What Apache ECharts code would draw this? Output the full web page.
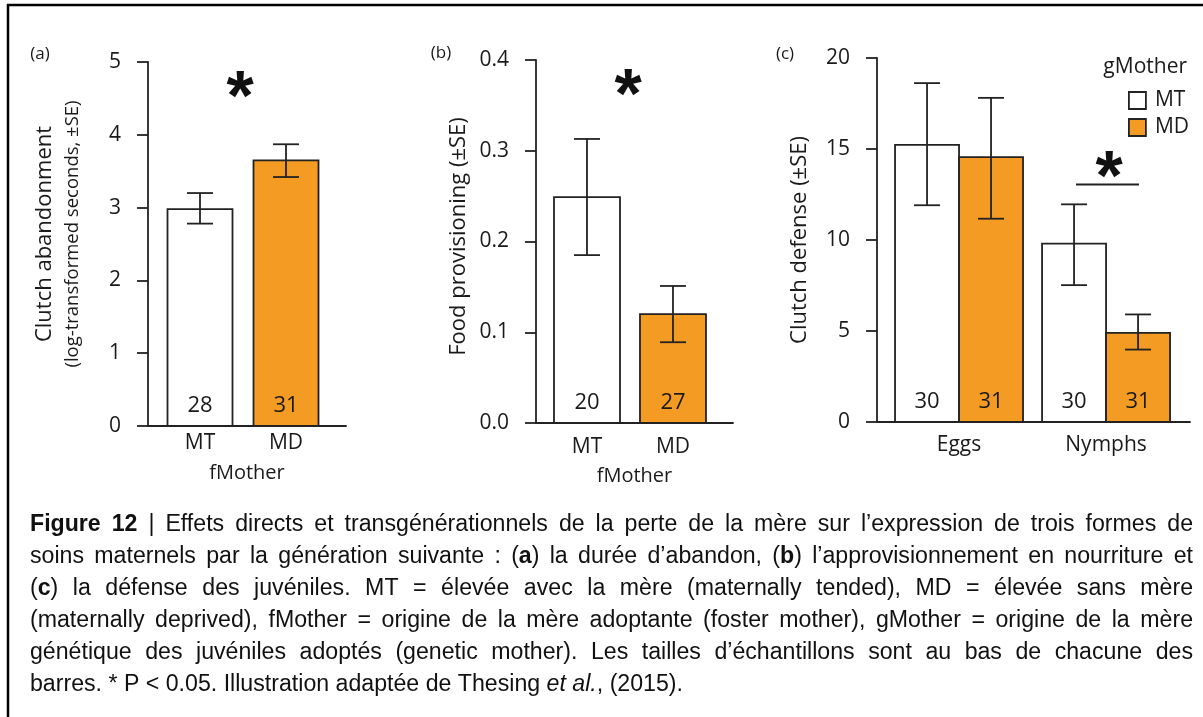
<!DOCTYPE html>
<html><head><meta charset="utf-8">
<script src="https://cdn.jsdelivr.net/npm/echarts@6/dist/echarts.min.js"></script>
<style>html,body{margin:0;padding:0;background:#fff}#main{width:1203px;height:717px}</style>
</head><body><div id="main"></div>
<script>
// ---------- Data ----------
// Panel (a) Clutch abandonment
const fMotherCategories = ['MT', 'MD'];
const abandonMean = [2.98, 3.65];
const abandonLow = [2.78, 3.42];
const abandonHigh = [3.20, 3.87];
const abandonN = [28, 31];
// Panel (b) Food provisioning
const foodMean = [0.249, 0.120];
const foodLow = [0.185, 0.089];
const foodHigh = [0.313, 0.151];
const foodN = [20, 27];
// Panel (c) Clutch defense
const stageCategories = ['Eggs', 'Nymphs'];
const gMotherGroups = ['MT', 'MD'];
const defenseMTMean = [15.23, 9.80];
const defenseMTLow = [11.91, 7.52];
const defenseMTHigh = [18.62, 11.96];
const defenseMTN = [30, 30];
const defenseMDMean = [14.55, 4.90];
const defenseMDLow = [11.17, 3.98];
const defenseMDHigh = [17.81, 5.91];
const defenseMDN = [31, 31];
// Caption
const captionLines = [
  [{t: 'Figure 12', s: 'b'}, {t: ' | Effets directs et transgénérationnels de la perte de la mère sur l’expression de trois formes de'}],
  [{t: 'soins maternels par la génération suivante : ('}, {t: 'a', s: 'b'}, {t: ') la durée d’abandon, ('}, {t: 'b', s: 'b'}, {t: ') l’approvisionnement en nourriture et'}],
  [{t: '('}, {t: 'c', s: 'b'}, {t: ') la défense des juvéniles. MT = élevée avec la mère (maternally tended), MD = élevée sans mère'}],
  [{t: '(maternally deprived), fMother = origine de la mère adoptante (foster mother), gMother = origine de la mère'}],
  [{t: 'génétique des juvéniles adoptés (genetic mother). Les tailles d’échantillons sont au bas de chacune des'}],
  [{t: 'barres. * P < 0.05. Illustration adaptée de Thesing '}, {t: 'et al.', s: 'i'}, {t: ', (2015).'}]
];

// ---------- Styles ----------
const ORANGE = '#F39B22';
const INK = '#1a1a1a';
const LINE = '#222';
const PFONT = '"Open Sans", "Noto Sans", sans-serif';
const fillColors = ['#ffffff', ORANGE];

function makeRender(offsetPx, barW, colorFn) {
  return function (params, api) {
    const x = api.value(0), m = api.value(1), lo = api.value(2), hi = api.value(3), n = api.value(4);
    const base = api.coord([x, 0]);
    const top = api.coord([x, m]);
    const pLo = api.coord([x, lo]);
    const pHi = api.coord([x, hi]);
    const cx = base[0] + offsetPx;
    const cap = 13;
    const ls = {stroke: LINE, lineWidth: 1.8};
    return {
      type: 'group',
      children: [
        {type: 'rect', shape: {x: cx - barW / 2, y: top[1], width: barW, height: base[1] - top[1]},
         style: {fill: colorFn(params.dataIndex), stroke: LINE, lineWidth: 1.8}},
        {type: 'line', shape: {x1: cx, y1: pLo[1], x2: cx, y2: pHi[1]}, style: ls},
        {type: 'line', shape: {x1: cx - cap, y1: pLo[1], x2: cx + cap, y2: pLo[1]}, style: ls},
        {type: 'line', shape: {x1: cx - cap, y1: pHi[1], x2: cx + cap, y2: pHi[1]}, style: ls},
        {type: 'text', x: cx, y: base[1] - 20,
         style: {text: String(n), fill: INK, font: '22px ' + PFONT, align: 'center', verticalAlign: 'middle'}}
      ]
    };
  };
}

function yAxisCommon(extra) {
  return Object.assign({
    type: 'value',
    axisLine: {show: true, lineStyle: {color: LINE, width: 1.8}},
    axisTick: {show: true, length: 11, lineStyle: {color: LINE, width: 1.8}},
    splitLine: {show: false},
    axisLabel: {fontSize: 21, color: INK, fontFamily: PFONT, margin: 27},
    nameLocation: 'middle',
    nameRotate: 90,
    nameTextStyle: {fontSize: 22, color: INK, fontFamily: PFONT}
  }, extra);
}
function xAxisCommon(extra, cats, margin) {
  return Object.assign({
    type: 'value',
    axisLine: {show: true, onZero: false, lineStyle: {color: LINE, width: 1.8}},
    axisTick: {show: false},
    splitLine: {show: false},
    axisLabel: {customValues: cats.map((c, i) => i + 1), formatter: v => cats[Math.round(v) - 1] || '',
                fontSize: 21, color: INK, fontFamily: PFONT, margin: margin},
    nameLocation: 'middle',
    nameTextStyle: {fontSize: 20, color: INK, fontFamily: PFONT}
  }, extra);
}

// ---------- Caption layout (justified) ----------
const CAP_FONT = '"Liberation Sans Narrow", "Liberation Sans", Arial, sans-serif';
const CAP_SIZE = 23;
const capLeft = 30, capRight = 1193, lastRight = 683;
const capCenters = [525, 557, 589, 621, 653, 685];
const cv = document.createElement('canvas').getContext('2d');
function fontStr(st) { return (st === 'i' ? 'italic ' : '') + (st === 'b' ? 'bold ' : '') + CAP_SIZE + 'px ' + CAP_FONT; }
function measure(segs) { let w = 0; for (const g of segs) { cv.font = fontStr(g.s || 'n'); w += cv.measureText(g.t).width; } return w; }
function toWords(line) {
  const words = [[]];
  for (const seg of line) {
    const parts = seg.t.split(' ');
    parts.forEach((p, i) => { if (i > 0) words.push([]); if (p) words[words.length - 1].push({t: p, s: seg.s || 'n'}); });
  }
  return words.filter(w => w.length);
}
const capScale = (lastRight - capLeft) / measure(captionLines[captionLines.length - 1]);
cv.font = fontStr('n');
const spaceW = cv.measureText(' ').width * capScale;
const richCap = {
  n: {fontFamily: CAP_FONT, fontSize: CAP_SIZE},
  b: {fontFamily: CAP_FONT, fontSize: CAP_SIZE, fontWeight: 'bold'},
  i: {fontFamily: CAP_FONT, fontSize: CAP_SIZE, fontStyle: 'italic'}
};
const captionGraphics = [];
captionLines.forEach((line, li) => {
  const words = toWords(line);
  const widths = words.map(w => measure(w) * capScale);
  const total = widths.reduce((a, b) => a + b, 0);
  const isLast = li === captionLines.length - 1;
  const gap = isLast ? spaceW : (capRight - capLeft - total) / (words.length - 1);
  let x = capLeft;
  words.forEach((w, wi) => {
    captionGraphics.push({
      type: 'text', x: x, y: capCenters[li], scaleX: capScale, silent: true,
      style: {text: w.map(g => '{' + g.s + '|' + g.t + '}').join(''), rich: richCap, fill: '#111',
              align: 'left', verticalAlign: 'middle'}
    });
    x += widths[wi] + gap;
  });
});

// ---------- Chart ----------
const chart = echarts.init(document.getElementById('main'), null, {renderer: 'canvas'});
const starStyle = {fill: '#111', font: 'bold 70px "Liberation Sans", Arial, sans-serif', align: 'center', verticalAlign: 'middle'};

const option = {
  animation: false,
  backgroundColor: '#fff',
  grid: [
    {left: 148, top: 62, width: 198, height: 364},
    {left: 536, top: 60, width: 197, height: 363},
    {left: 877, top: 58, width: 313, height: 364}
  ],
  xAxis: [
    xAxisCommon({gridIndex: 0, min: 0.3953, max: 2.6977, name: 'fMother', nameGap: 37}, fMotherCategories, 7),
    xAxisCommon({gridIndex: 1, min: 0.407, max: 2.698, name: 'fMother', nameGap: 43}, fMotherCategories, 14),
    xAxisCommon({gridIndex: 2, min: 0.442, max: 2.571}, stageCategories, 13)
  ],
  yAxis: [
    yAxisCommon({gridIndex: 0, min: 0, max: 5, interval: 1, nameGap: 64,
      name: '{l1|Clutch abandonment}\n{l2|(log-transformed seconds, ±SE)}',
      nameTextStyle: {color: INK, fontFamily: PFONT, padding: [0, 0, 0, 20],
        rich: {l1: {fontSize: 22, lineHeight: 34, fontFamily: PFONT, color: INK},
               l2: {fontSize: 18.5, lineHeight: 22, fontFamily: PFONT, color: INK}}}}),
    yAxisCommon({gridIndex: 1, min: 0, max: 0.4, interval: 0.1, nameGap: 66,
      name: 'Food provisioning (±SE)',
      nameTextStyle: {fontSize: 22, color: INK, fontFamily: PFONT, padding: [0, 0, 0, 10]},
      axisLabel: {fontSize: 21, color: INK, fontFamily: PFONT, margin: 27, formatter: v => v.toFixed(1)}}),
    yAxisCommon({gridIndex: 2, min: 0, max: 20, interval: 5, nameGap: 66, name: 'Clutch defense (±SE)'})
  ],
  legend: {
    show: true, orient: 'vertical', left: 1128, top: 90, itemWidth: 17, itemHeight: 17, itemGap: 6,
    icon: 'rect', data: gMotherGroups, padding: 0,
    itemStyle: {borderColor: LINE, borderWidth: 1.8},
    textStyle: {fontSize: 21, color: INK, fontFamily: PFONT, lineHeight: 17, padding: [0, 0, 0, 4]}
  },
  series: [
    {type: 'custom', name: 'abandon', xAxisIndex: 0, yAxisIndex: 0,
     renderItem: makeRender(0, 65, i => fillColors[i]),
     data: fMotherCategories.map((c, i) => [i + 1, abandonMean[i], abandonLow[i], abandonHigh[i], abandonN[i]])},
    {type: 'custom', name: 'food', xAxisIndex: 1, yAxisIndex: 1,
     renderItem: makeRender(0, 66, i => fillColors[i]),
     data: fMotherCategories.map((c, i) => [i + 1, foodMean[i], foodLow[i], foodHigh[i], foodN[i]])},
    {type: 'custom', name: 'MT', xAxisIndex: 2, yAxisIndex: 2,
     itemStyle: {color: '#ffffff', borderColor: LINE, borderWidth: 1.8},
     renderItem: makeRender(-32, 64, () => '#ffffff'),
     data: stageCategories.map((c, i) => [i + 1, defenseMTMean[i], defenseMTLow[i], defenseMTHigh[i], defenseMTN[i]])},
    {type: 'custom', name: 'MD', xAxisIndex: 2, yAxisIndex: 2,
     itemStyle: {color: ORANGE, borderColor: LINE, borderWidth: 1.8},
     renderItem: makeRender(32, 64, () => ORANGE),
     data: stageCategories.map((c, i) => [i + 1, defenseMDMean[i], defenseMDLow[i], defenseMDHigh[i], defenseMDN[i]])}
  ],
  graphic: [
    {type: 'line', silent: true, shape: {x1: 7, y1: 5, x2: 1203, y2: 5}, style: {stroke: '#000', lineWidth: 2.5}},
    {type: 'line', silent: true, shape: {x1: 8, y1: 4, x2: 8, y2: 717}, style: {stroke: '#000', lineWidth: 2.5}},
    {type: 'text', x: 40, y: 54, style: {text: '(a)', fill: INK, font: '17px ' + PFONT, align: 'center', verticalAlign: 'middle'}},
    {type: 'text', x: 441, y: 53, style: {text: '(b)', fill: INK, font: '17px ' + PFONT, align: 'center', verticalAlign: 'middle'}},
    {type: 'text', x: 785, y: 54, style: {text: '(c)', fill: INK, font: '17px ' + PFONT, align: 'center', verticalAlign: 'middle'}},
    {type: 'text', x: 240, y: 101, style: Object.assign({text: '*'}, starStyle)},
    {type: 'text', x: 628, y: 99, style: Object.assign({text: '*'}, starStyle)},
    {type: 'text', x: 1109, y: 181, style: Object.assign({text: '*'}, starStyle)},
    {type: 'line', silent: true, shape: {x1: 1076, y1: 184.5, x2: 1139, y2: 184.5}, style: {stroke: LINE, lineWidth: 1.8}},
    {type: 'text', x: 1187, y: 67, style: {text: 'gMother', fill: INK, font: '21px ' + PFONT, align: 'right', verticalAlign: 'middle'}}
  ].concat(captionGraphics)
};
chart.setOption(option);
</script>
</body></html>
